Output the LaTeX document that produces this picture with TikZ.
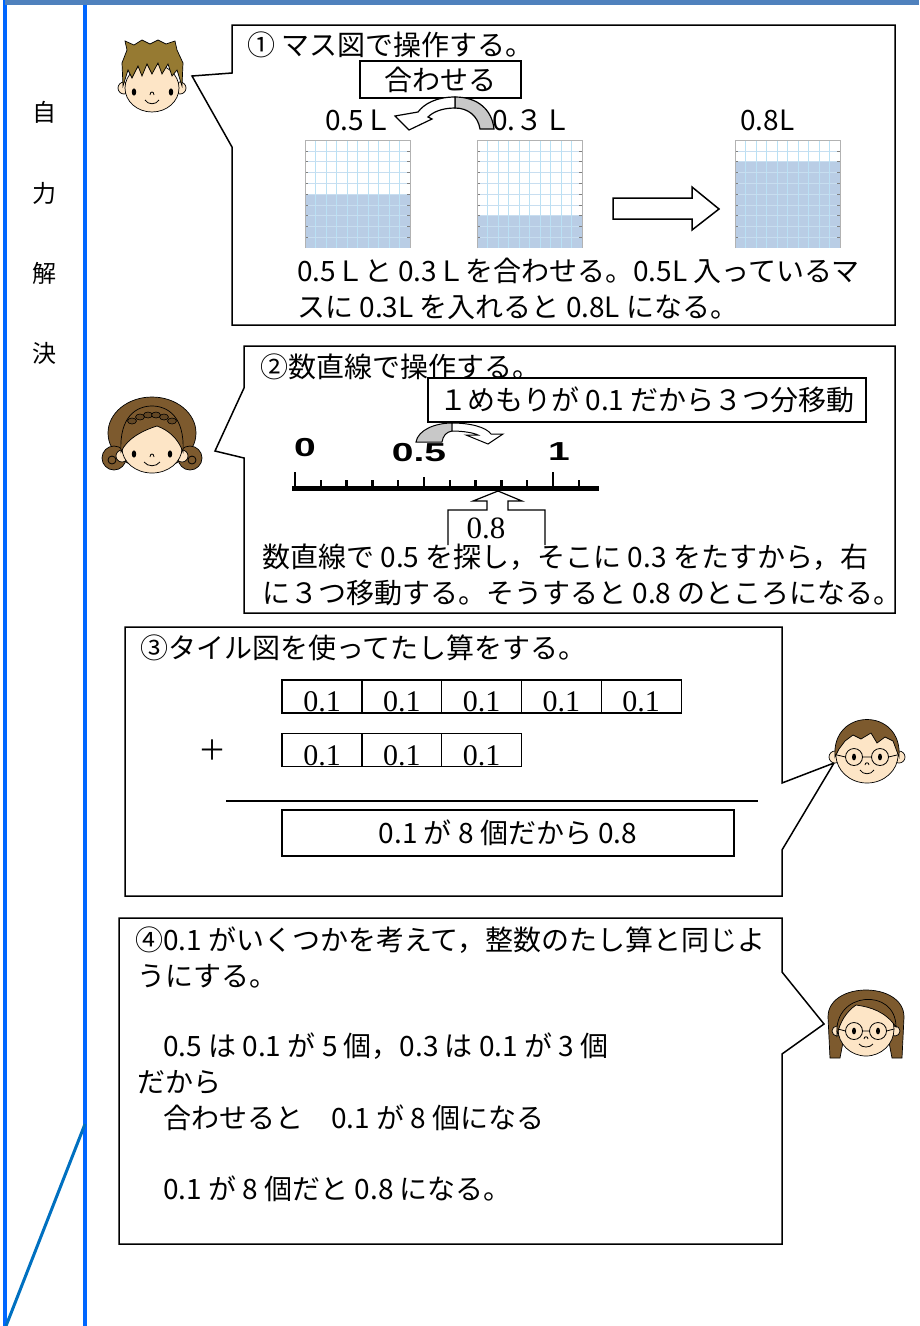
\documentclass[tikz,border=0pt]{standalone}
\usepackage{fontspec}
\usepackage{graphicx}
\usepackage{xcolor}
\usetikzlibrary{positioning}
\newfontfamily\jp{Noto Sans CJK JP}
\newfontfamily\serif{Liberation Serif}
\newfontfamily\lab{Liberation Sans}
\newcommand\wide[1]{\scalebox{1.5}[1]{#1}}

\definecolor{barblue}{RGB}{79,129,189}
\definecolor{sideblue}{RGB}{0,102,255}
\definecolor{slashblue}{RGB}{0,112,192}
\definecolor{masufill}{RGB}{185,205,229}
\definecolor{masugrid}{RGB}{185,225,245}
\definecolor{masuline}{RGB}{200,222,240}
\definecolor{shade}{RGB}{200,200,200}
\definecolor{skin}{RGB}{253,229,198}
\definecolor{hairlight}{RGB}{150,122,50}
\definecolor{hairdark}{RGB}{125,90,46}

\tikzset{
  body/.style={anchor=base west, inner sep=0pt, font=\jp\fontsize{28}{32}\selectfont},
  callout/.style={draw, line width=1.5pt, fill=white},
  tag/.style={draw, line width=1.3pt, fill=white, inner sep=0pt, font=\jp\fontsize{28}{32}\selectfont},
  tile/.style={draw, line width=1.3pt, minimum width=80pt, minimum height=33pt, inner sep=0pt,
    text height=31pt, text depth=1pt, font=\serif\fontsize{30}{30}\selectfont},
  numlab/.style={inner sep=0pt, font=\lab\bfseries\fontsize{26}{26}\selectfont},
  side/.style={inner sep=0pt, font=\jp\fontsize{24}{24}\selectfont},
  skinc/.style={fill=skin, draw=black, line width=0.7pt},
  hairlt/.style={fill=hairlight, draw=black, line width=0.7pt},
  hairdk/.style={fill=hairdark, draw=black, line width=0.7pt},
  thinline/.style={line width=0.8pt}
}

\begin{document}
\begin{tikzpicture}[x=1pt, y=-1pt]
\useasboundingbox (0,0) rectangle (919,1326);

\draw[sideblue, line width=4pt] (5,0) -- (5,1326);
\draw[sideblue, line width=4pt] (85,0) -- (85,1326);
\draw[barblue, line width=5pt] (5,2.5) -- (919,2.5);
\draw[slashblue, line width=3pt] (85,1124) -- (6,1326);

\node[side] (s1) at (44,112) {自};
\node[side] (s2) at (44,193) {力};
\node[side] (s3) at (44,273) {解};
\node[side] (s4) at (44,353) {決};

\draw[callout] (232,25) -- (895,25) -- (895,325) -- (232,325) -- (232,147) -- (192,76) -- (232,73) -- cycle;
\draw[callout] (244,346) -- (895,346) -- (895,613) -- (244,613) -- (244,458) -- (215,451) -- (244,388) -- cycle;
\draw[callout] (125,627) -- (782,627) -- (782,783) -- (834,763) -- (782,850) -- (782,896) -- (125,896) -- cycle;
\draw[callout] (119,918) -- (782,918) -- (782,972) -- (824,1024) -- (782,1054) -- (782,1244) -- (119,1244) -- cycle;

\node[body] (h1) at (247,55) {① マス図で操作する。};
\node[tag, minimum width=161pt, minimum height=37pt] (awase) at (440.5,79.5) {合わせる};
\node[body] (va) at (325,130) {0.5Ｌ};
\node[body] (vb) at (492,130) {0.３Ｌ};
\node[body] (vc) at (740,130) {0.8L};

\filldraw[fill=shade, line width=1.2pt] (455,97) .. controls (478,97) and (492,110) .. (494,129)
  -- (480,129) .. controls (478,116) and (468,108) .. (455,108) -- cycle;
\filldraw[fill=white, line width=1.2pt] (455,97) .. controls (436,97) and (424,104) .. (418,112)
  -- (395,116) -- (409,130) -- (432,119) -- (428,117) .. controls (433,112) and (442,108) .. (455,108) -- cycle;

\foreach \mx/\lv in {305/5, 477/3, 735/8} {
  \fill[masufill] (\mx,248) rectangle (\mx+105,248-\lv*10.8);
  \foreach \k in {1,...,9} {
    \draw[masugrid, line width=0.6pt] (\mx+\k*10.5,140) -- (\mx+\k*10.5,248);
    \draw[masuline, line width=0.4pt] (\mx,140+\k*10.8) -- (\mx+105,140+\k*10.8);
    \draw[gray, line width=0.6pt] (\mx,140+\k*10.8) -- ++(3,0) (\mx+105,140+\k*10.8) -- ++(-3,0);
  }
  \draw[gray!60, line width=0.8pt] (\mx,248) -- (\mx,140) -- (\mx+105,140) -- (\mx+105,248);
}
\draw[line width=1.5pt, fill=white] (613,198) -- (692,198) -- (692,187) -- (719,209)
  -- (692,230) -- (692,219) -- (613,219) -- cycle;

\node[body] (e1a) at (297,281) {0.5Ｌと 0.3Ｌを合わせる。0.5L 入っているマ};
\node[body] (e1b) at (297,317) {スに 0.3L を入れると 0.8L になる。};

\node[body] (h2) at (260,377) {②数直線で操作する。};
\node[tag, minimum width=438pt, minimum height=44pt] (memori) at (647,400) {１めもりが 0.1 だから３つ分移動};

\filldraw[fill=shade, line width=1pt] (416,442) .. controls (418,430) and (435,423) .. (452,423)
  -- (452,431) .. controls (446,432) and (443,436) .. (442,442) -- cycle;
\filldraw[fill=white, line width=1pt] (452,423) .. controls (470,423) and (486,427) .. (491,434)
  -- (503,434) -- (488,444) -- (466,435) -- (478,435) .. controls (474,433) and (464,431) .. (452,431) -- cycle;

\node[numlab] (n0) at (305,448) {\wide{0}};
\node[numlab] (n5) at (419,453) {\wide{0.5}};
\node[numlab] (n1) at (559,452) {\wide{1}};
\draw[line width=5pt] (292,488) -- (599,488);
\foreach \k in {0,...,11} {
  \pgfmathsetmacro\tl{(\k==0 || \k==10) ? 16 : ((\k==5) ? 11 : 8)}
  \draw[line width=2.5pt] (295+\k*25.8,488) -- ++(0,-\tl);
}
\draw[line width=1.2pt, fill=white] (448,545) -- (448,510) -- (487,510) -- (487,501) -- (473,501)
  -- (498,491) -- (522,501) -- (508,501) -- (508,510) -- (545,510) -- (545,545);
\node[inner sep=0pt, font=\serif\fontsize{31}{31}\selectfont] (pt8) at (486,528) {0.8};

\node[body] (e2a) at (262,567) {数直線で 0.5 を探し，そこに 0.3 をたすから，右};
\node[body] (e2b) at (262,603) {に３つ移動する。そうすると 0.8 のところになる。};

\node[body] (h3) at (140,658) {③タイル図を使ってたし算をする。};
\foreach \i in {0,...,4}
  \node[tile] (ta\i) at (322+\i*79.8,696.5) {0.1};
\foreach \i in {0,...,2}
  \node[tile] (tb\i) at (322+\i*79.8,750) {0.1};
\node[inner sep=0pt, font=\jp\fontsize{28}{28}\selectfont] (plus) at (212,750) {＋};
\draw[line width=1.5pt] (226,801) -- (758,801);
\node[tag, minimum width=452pt, minimum height=46pt] (kotae) at (508,833) {0.1 が 8 個だから 0.8};

\node[body] (h4) at (135,950) {④0.1 がいくつかを考えて，整数のたし算と同じよ};
\node[body] (e4a) at (137,986) {うにする。};
\node[body] (e4b) at (163,1056) {0.5 は 0.1 が 5 個，0.3 は 0.1 が 3 個};
\node[body] (e4c) at (137,1092) {だから};
\node[body] (e4d) at (163,1128) {合わせると　0.1 が 8 個になる};
\node[body] (e4e) at (163,1199) {0.1 が 8 個だと 0.8 になる。};

\begin{scope}[shift={(152,78)}]
  \filldraw[skinc] (-28,10) circle (6) (28,10) circle (6);
  \filldraw[skinc] (0,10) ellipse (27 and 24);
  \filldraw[hairlt] (-29,8) -- (-30,-15) -- (-25,-28) -- (-27,-37) -- (-18,-33) -- (-10,-38) -- (-2,-34)
    -- (6,-38) -- (14,-34) -- (23,-37) -- (25,-28) -- (31,-15) -- (30,8) -- (25,-8) -- (20,-2)
    -- (16,-14) -- (10,-4) -- (6,-15) -- (0,-4) -- (-5,-14) -- (-10,-2) -- (-14,-12) -- (-20,0)
    -- (-24,-8) -- cycle;
  \fill (-18,14) ellipse (2.2 and 3.6) (19,14) ellipse (2.2 and 3.6);
  \draw[thinline] (-2,17) .. controls (-2,13) and (2,13) .. (2,17);
  \draw[thinline] (-7,22) .. controls (-4,27) and (4,27) .. (7,22);
\end{scope}

\begin{scope}[shift={(152,438)}]
  \filldraw[hairdk] (0,-5) ellipse (44 and 36);
  \filldraw[hairdk] (-38,20) circle (12) (38,20) circle (12);
  \draw[thinline] (-40,22) circle (4) (40,22) circle (4);
  \filldraw[skinc] (-30,18) circle (6) (30,18) circle (6);
  \filldraw[skinc] (0,10) ellipse (30 and 25);
  \filldraw[hairdk] (-31,14) .. controls (-33,-22) and (-15,-32) .. (0,-32) .. controls (15,-32) and (33,-22) .. (31,14)
    .. controls (26,0) and (16,-8) .. (5,-12) .. controls (-8,-8) and (-25,0) .. (-31,14) -- cycle;
  \foreach \bx/\by in {-20/-17, -12/-21, -4/-23, 4/-23, 12/-21, 20/-17}
    \filldraw[fill=hairdark!80!black, draw=black, line width=0.6pt] (\bx,\by) ellipse (4.5 and 3);
  \fill (-18,16) ellipse (2.2 and 3.6) (18,16) ellipse (2.2 and 3.6);
  \draw[thinline] (-2,19) .. controls (-2,15) and (2,15) .. (2,19);
  \draw[thinline] (-8,24) .. controls (-4,29) and (4,29) .. (8,24);
\end{scope}

\begin{scope}[shift={(867,745)}]
  \filldraw[skinc] (-32,12) circle (6) (32,12) circle (6);
  \filldraw[skinc] (0,10) ellipse (31 and 28);
  \filldraw[hairdk] (-32,12) .. controls (-36,-38) and (36,-38) .. (32,12) -- (26,-4) -- (18,-8) -- (10,-2)
    -- (4,-12) -- (-6,-6) -- (-14,-10) -- (-22,-4) -- (-28,4) -- cycle;
  \draw[thinline] (-13,12) circle (8.5) (13,12) circle (8.5) (-4.5,12) -- (4.5,12)
    (-21.5,12) -- (-30,10) (21.5,12) -- (30,10);
  \fill (-13,12) ellipse (2 and 3.4) (13,12) ellipse (2 and 3.4);
  \draw[thinline] (-2,20) .. controls (-2,17) and (2,17) .. (2,20);
  \draw[thinline] (-7,25) .. controls (-4,30) and (4,30) .. (7,25);
\end{scope}

\begin{scope}[shift={(866,1017)}]
  \filldraw[hairdk] (-36,41) -- (-38,0) .. controls (-38,-36) and (38,-36) .. (38,0) -- (36,41) -- (26,41)
    -- (22,20) -- (-22,20) -- (-26,41) -- cycle;
  \filldraw[skinc] (-29,14) circle (5) (29,14) circle (5);
  \filldraw[skinc] (0,12) ellipse (28 and 27);
  \filldraw[hairdk] (-29,18) .. controls (-33,-26) and (30,-30) .. (30,10) .. controls (20,-5) and (5,-10) .. (-10,-12)
    .. controls (-20,-5) and (-26,5) .. (-29,18) -- cycle;
  \draw[thinline] (-12,14) circle (8.5) (12,14) circle (8.5) (-3.5,14) -- (3.5,14)
    (-20.5,14) -- (-28,12) (20.5,14) -- (28,12);
  \fill (-12,14) ellipse (2 and 3.4) (12,14) ellipse (2 and 3.4);
  \draw[thinline] (-2,22) .. controls (-2,19) and (2,19) .. (2,22);
  \draw[thinline] (-7,27) .. controls (-4,31) and (4,31) .. (7,27);
\end{scope}
\end{tikzpicture}
\end{document}
